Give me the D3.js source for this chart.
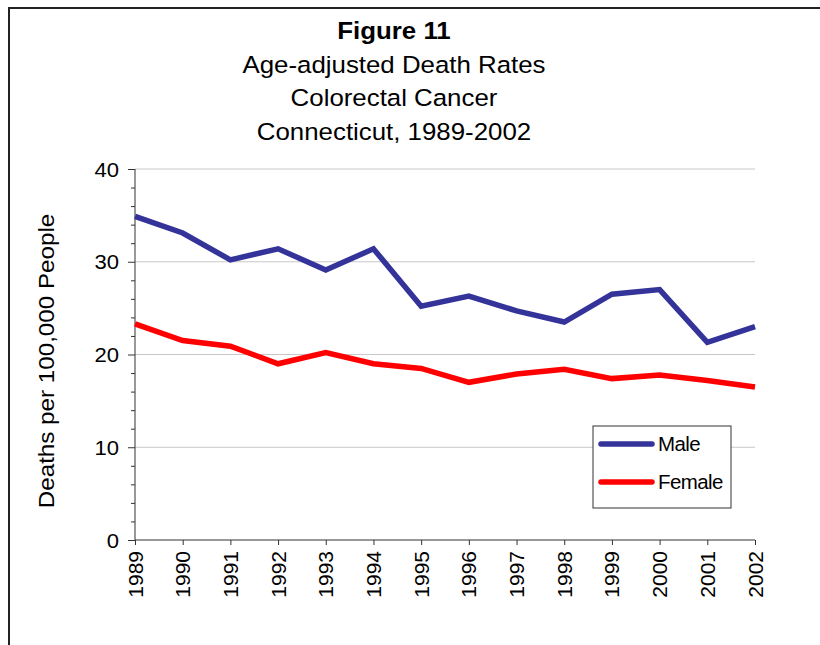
<!DOCTYPE html>
<html>
<head>
<meta charset="utf-8">
<script src="https://cdn.jsdelivr.net/npm/d3@7"></script>
<style>
  body { margin: 0; background: #fff; }
  text { font-family: 'Liberation Sans', Arial, sans-serif; fill: #000; }
</style>
</head>
<body>
<div id="graph"></div>
<script>
var years = [1989, 1990, 1991, 1992, 1993, 1994, 1995, 1996, 1997, 1998, 1999, 2000, 2001, 2002]
var male = [34.9, 33.1, 30.2, 31.4, 29.1, 31.4, 25.2, 26.3, 24.7, 23.5, 26.5, 27.0, 21.3, 23.0]
var female = [23.3, 21.5, 20.9, 19.0, 20.2, 19.0, 18.5, 17.0, 17.9, 18.4, 17.4, 17.8, 17.2, 16.5]
var yTicks = [0, 10, 20, 30, 40]
var titleLines = ['Figure 11', 'Age-adjusted Death Rates', 'Colorectal Cancer', 'Connecticut, 1989-2002']
var series = [
  { name: 'Male', values: male, color: '#333399' },
  { name: 'Female', values: female, color: '#ff0000' },
]

var stretch = 1.1

var svg = d3
  .select('#graph')
  .append('svg')
  .attr('width', 820)
  .attr('height', 645)

// outer frame, runs off the right and bottom edges
svg.append('rect')
  .attr('x', 9)
  .attr('y', 8)
  .attr('width', 900)
  .attr('height', 900)
  .attr('fill', 'none')
  .attr('stroke', '#222')
  .attr('stroke-width', 2)

var x = d3.scalePoint().domain(years).range([135, 755])
var y = d3.scaleLinear().domain([0, 40]).range([540, 169])

// title
svg.selectAll('.title')
  .data(titleLines)
  .enter()
  .append('text')
  .attr('class', 'title')
  .attr('transform', (d, i) => 'translate(394,' + (39 + i * 33.5) + ') scale(' + stretch + ',1)')
  .attr('text-anchor', 'middle')
  .style('font-size', '23.5px')
  .style('font-weight', (d, i) => (i == 0 ? 'bold' : 'normal'))
  .text(d => d)

// gridlines
svg.append('g')
  .selectAll('line')
  .data(yTicks.slice(1))
  .enter()
  .append('line')
  .attr('x1', x(years[0]))
  .attr('x2', x(years[years.length - 1]))
  .attr('y1', d => y(d))
  .attr('y2', d => y(d))
  .attr('stroke', '#c8c8c8')
  .attr('stroke-width', 1)

// y axis: major ticks every 10, minor every 2
var yAxis = svg.append('g')
  .attr('transform', 'translate(135,0)')
  .call(d3.axisLeft(y).tickValues(d3.range(0, 41, 2)).tickSize(4).tickFormat(''))
yAxis.select('.domain').remove()
yAxis.selectAll('.tick line').attr('stroke', '#333')
yAxis.selectAll('.tick')
  .filter(d => d % 10 == 0)
  .select('line')
  .attr('x2', -7)
yAxis.append('line')
  .attr('y1', y(0))
  .attr('y2', y(40))
  .attr('stroke', '#333')
yAxis.selectAll('.ylab')
  .data(yTicks)
  .enter()
  .append('text')
  .attr('class', 'ylab')
  .attr('transform', d => 'translate(-16,' + (y(d) + 7.5) + ') scale(1.05,1)')
  .attr('text-anchor', 'end')
  .style('font-size', '21px')
  .text(d => d)

// x axis
var xAxis = svg.append('g')
  .attr('transform', 'translate(0,540)')
  .call(d3.axisBottom(x).tickSize(5).tickFormat(''))
xAxis.select('.domain').attr('stroke', '#333').attr('d', 'M' + x(years[0]) + ',0H' + x(years[years.length - 1]))
xAxis.selectAll('.tick line').attr('stroke', '#333')
xAxis.selectAll('.xlab')
  .data(years)
  .enter()
  .append('text')
  .attr('class', 'xlab')
  .attr('transform', d => 'translate(' + (x(d) + 7.5) + ',11) rotate(-90)')
  .attr('text-anchor', 'end')
  .style('font-size', '21px')
  .text(d => d)

// y axis title
svg.append('text')
  .attr('transform', 'translate(54,361) rotate(-90) scale(' + stretch + ',1)')
  .attr('text-anchor', 'middle')
  .style('font-size', '22px')
  .text('Deaths per 100,000 People')

// lines
var line = d3.line()
  .x((d, i) => x(years[i]))
  .y(d => y(d))

svg.selectAll('.series')
  .data(series)
  .enter()
  .append('path')
  .attr('class', 'series')
  .attr('d', d => line(d.values))
  .attr('fill', 'none')
  .attr('stroke', d => d.color)
  .attr('stroke-width', 5.5)
  .attr('stroke-linejoin', 'miter')

// legend
var legend = svg.append('g').attr('transform', 'translate(593,426)')
legend.append('rect')
  .attr('width', 138)
  .attr('height', 82)
  .attr('fill', '#fff')
  .attr('stroke', '#333')
  .attr('stroke-width', 1)
var item = legend.selectAll('.item')
  .data(series)
  .enter()
  .append('g')
  .attr('class', 'item')
  .attr('transform', (d, i) => 'translate(0,' + (18 + i * 38) + ')')
item.append('line')
  .attr('x1', 8)
  .attr('x2', 59)
  .attr('stroke', d => d.color)
  .attr('stroke-width', 5.5)
  .attr('stroke-linecap', 'round')
item.append('text')
  .attr('x', 65)
  .attr('y', 7)
  .style('font-size', '20.5px')
  .style('letter-spacing', '-0.6px')
  .text(d => d.name)
</script>
</body>
</html>
